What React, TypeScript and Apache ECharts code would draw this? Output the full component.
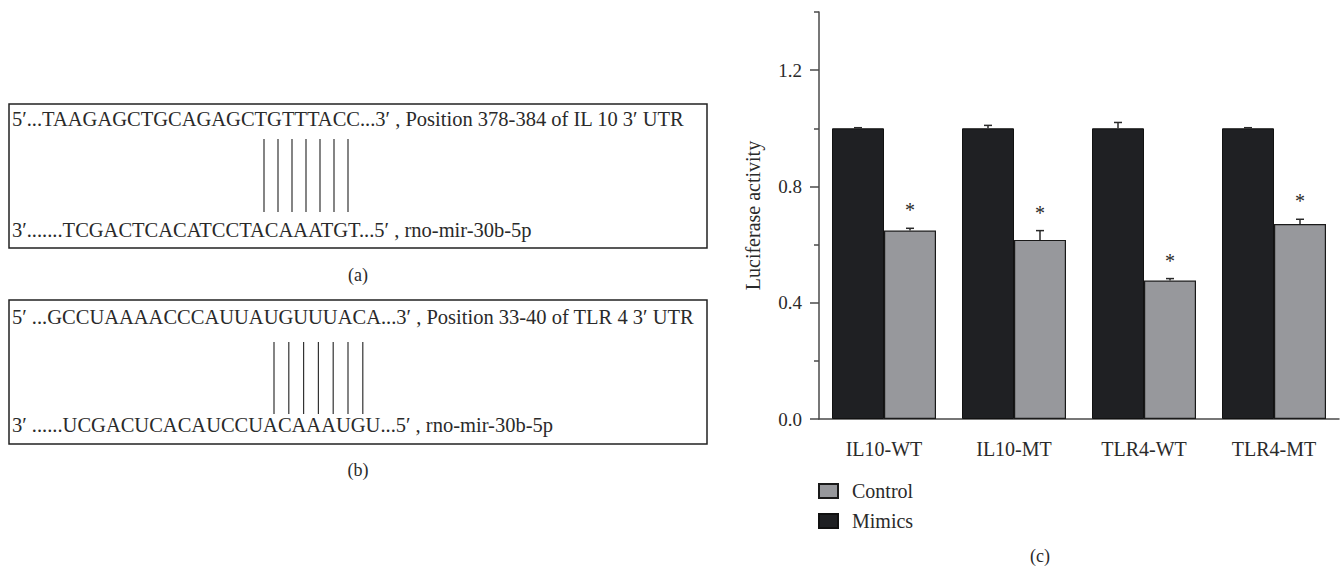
import React, { useEffect, useRef } from "react";
import * as echarts from "echarts";

const categories = ["IL10-WT", "IL10-MT", "TLR4-WT", "TLR4-MT"];
const mimicsValues = [1.0, 1.0, 1.0, 1.0];
const mimicsErrors = [0.002, 0.01, 0.02, 0.002];
const controlValues = [0.648, 0.616, 0.476, 0.671];
const controlErrors = [0.008, 0.032, 0.007, 0.016];
const significanceMarks = ["*", "*", "*", "*"];
const yLabelValues = [0, 0.4, 0.8, 1.2];
const yMinorTickValues = [0.2, 0.6, 1.0, 1.4];
const legendNames = ["Control", "Mimics"];

const panelATop = "5′...TAAGAGCTGCAGAGCTGTTTACC...3′ , Position 378-384 of IL 10 3′ UTR";
const panelABottom = "3′.......TCGACTCACATCCTACAAATGT...5′ , rno-mir-30b-5p";
const panelBTop = "5′ ...GCCUAAAACCCAUUAUGUUUACA...3′ , Position 33-40 of TLR 4 3′ UTR";
const panelBBottom = "3′ ......UCGACUCACAUCCUACAAAUGU...5′ , rno-mir-30b-5p";
const pairCount = 7;

const FONT = "'Liberation Serif', 'DejaVu Serif', serif";
const TEXT = "#2a2a2a";
const AXIS = "#4a4a4a";

function seqPanel(
  top: number,
  topText: string,
  bottomText: string,
  label: string,
  lineX0: number,
  lineStep: number,
  lineY1: number,
  lineY2: number,
  topTextY: number,
  bottomTextY: number,
  labelY: number,
  fontSize: number
) {
  const els: any[] = [
    {
      type: "rect",
      shape: { x: 9, y: top, width: 698, height: 144 },
      style: { fill: "none", stroke: "#222", lineWidth: 1.5 },
    },
    {
      type: "text",
      style: { text: topText, x: 12, y: topTextY, fontSize, fontFamily: FONT, fill: TEXT, textVerticalAlign: "middle" },
    },
    {
      type: "text",
      style: { text: bottomText, x: 12, y: bottomTextY, fontSize, fontFamily: FONT, fill: TEXT, textVerticalAlign: "middle" },
    },
    {
      type: "text",
      style: { text: label, x: 358, y: labelY, fontSize: 18, fontFamily: FONT, fill: TEXT, textAlign: "center", textVerticalAlign: "middle" },
    },
  ];
  for (let i = 0; i < pairCount; i++) {
    const x = lineX0 + i * lineStep;
    els.push({
      type: "line",
      shape: { x1: x, y1: lineY1, x2: x, y2: lineY2 },
      style: { stroke: "#333", lineWidth: 1.2 },
    });
  }
  return els;
}

function errorRenderer(side: number, marks: string[] | null) {
  return (params: any, api: any) => {
    const idx = api.value(0);
    const val = api.value(1);
    const err = api.value(2);
    const band = api.size([1, 0])[0];
    const base = api.coord([idx, val]);
    const top = api.coord([idx, val + err]);
    const x = base[0] + side * band * 0.2;
    const cap = 4;
    const style = { stroke: "#2a2a2a", lineWidth: 1.5 };
    const children: any[] = [
      { type: "line", shape: { x1: x, y1: base[1], x2: x, y2: top[1] }, style },
      { type: "line", shape: { x1: x - cap, y1: top[1], x2: x + cap, y2: top[1] }, style },
    ];
    if (marks) {
      children.push({
        type: "text",
        style: {
          text: marks[params.dataIndex],
          x,
          y: top[1] - 18,
          fontSize: 20,
          fontFamily: FONT,
          fill: TEXT,
          textAlign: "center",
          textVerticalAlign: "middle",
        },
      });
    }
    return { type: "group", children };
  };
}

export default function App() {
  const ref = useRef<HTMLDivElement>(null);
  useEffect(() => {
    if (!ref.current) return;
    const chart = echarts.init(ref.current, null, { renderer: "svg" });
    const option: any = {
      animation: false,
      backgroundColor: "#fff",
      textStyle: { fontFamily: FONT },
      grid: { left: 819, top: 12, width: 520, height: 407, containLabel: false },
      legend: {
        data: legendNames,
        orient: "vertical",
        left: 818,
        top: 481,
        padding: 0,
        itemWidth: 19,
        itemHeight: 14,
        itemGap: 10,
        icon: "rect",
        selectedMode: false,
        textStyle: { fontSize: 20, fontFamily: FONT, color: TEXT, lineHeight: 20, padding: [0, 0, 0, 9] },
      },
      xAxis: {
        type: "category",
        data: categories,
        axisLine: { lineStyle: { color: AXIS, width: 1.5 } },
        axisTick: { alignWithLabel: true, length: 8, lineStyle: { color: AXIS, width: 1.5 } },
        axisLabel: { fontSize: 20, fontFamily: FONT, color: TEXT, margin: 20 },
        splitLine: { show: false },
      },
      yAxis: [
        {
          type: "value",
          min: 0,
          max: 1.4,
          interval: 0.2,
          name: "Luciferase activity",
          nameLocation: "middle",
          nameGap: 56,
          nameTextStyle: { fontSize: 20, fontFamily: FONT, color: TEXT },
          axisLine: { show: true, lineStyle: { color: AXIS, width: 1.5 } },
          axisTick: { show: true, length: 5, customValues: yMinorTickValues, lineStyle: { color: AXIS, width: 1.5 } },
          axisLabel: {
            fontSize: 19,
            fontFamily: FONT,
            color: TEXT,
            margin: 17,
            customValues: yLabelValues,
            formatter: (v: number) => v.toFixed(1),
          },
          splitLine: { show: false },
        },
        {
          type: "value",
          min: 0,
          max: 1.4,
          interval: 0.2,
          position: "left",
          axisLine: { show: false },
          axisTick: { show: true, length: 9, customValues: yLabelValues, lineStyle: { color: AXIS, width: 1.5 } },
          axisLabel: { show: false },
          splitLine: { show: false },
        },
      ],
      series: [
        {
          name: "Mimics",
          type: "bar",
          data: mimicsValues,
          barGap: "0%",
          barCategoryGap: "20%",
          itemStyle: { color: "#1f2023", borderColor: "#111", borderWidth: 1 },
        },
        {
          name: "Control",
          type: "bar",
          data: controlValues,
          barGap: "0%",
          barCategoryGap: "20%",
          itemStyle: { color: "#97989c", borderColor: "#1a1a1a", borderWidth: 1.2 },
        },
        {
          name: "MimicsError",
          type: "custom",
          renderItem: errorRenderer(-1, null),
          encode: { x: 0, y: 1 },
          data: mimicsValues.map((v, i) => [i, v, mimicsErrors[i]]),
          z: 5,
        },
        {
          name: "ControlError",
          type: "custom",
          renderItem: errorRenderer(1, significanceMarks),
          encode: { x: 0, y: 1 },
          data: controlValues.map((v, i) => [i, v, controlErrors[i]]),
          z: 5,
        },
      ],
      graphic: [
        ...seqPanel(104, panelATop, panelABottom, "(a)", 264, 14, 139, 212, 119, 230, 275, 20.5),
        ...seqPanel(300, panelBTop, panelBBottom, "(b)", 274, 14.8, 342, 414, 317, 425, 470, 20.5),
        {
          type: "text",
          style: { text: "(c)", x: 1040, y: 556, fontSize: 18, fontFamily: FONT, fill: TEXT, textAlign: "center", textVerticalAlign: "middle" },
        },
      ],
    };
    chart.setOption(option);
    return () => chart.dispose();
  }, []);
  return (
    <div
      ref={ref}
      style={{ position: "fixed", left: 0, top: 0, width: 1344, height: 571, background: "#fff" }}
    />
  );
}
